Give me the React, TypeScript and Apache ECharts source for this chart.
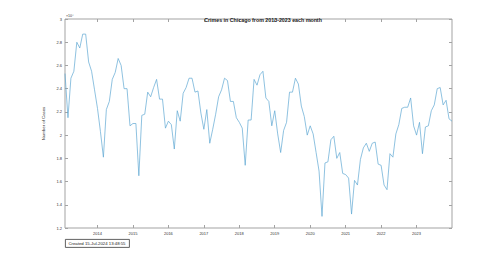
import React, { useEffect, useRef } from "react";
import * as echarts from "echarts";

const years = [2013, 2014, 2015, 2016, 2017, 2018, 2019, 2020, 2021, 2022, 2023];
const monthNames = ["01", "02", "03", "04", "05", "06", "07", "08", "09", "10", "11", "12"];

const cases2013 = [25300, 21500, 24900, 25500, 28000, 27500, 28700, 28700, 26300, 25500, 23900, 22300];
const cases2014 = [20300, 18100, 22200, 22900, 24800, 25400, 26600, 26000, 24000, 24000, 20800, 21000];
const cases2015 = [21000, 16500, 21700, 21800, 23700, 23300, 24100, 24800, 23100, 23100, 20600, 21200];
const cases2016 = [20900, 18800, 22100, 21200, 23600, 24100, 24900, 24900, 23700, 23800, 21900, 20500];
const cases2017 = [22200, 19300, 20500, 21800, 23300, 23900, 24900, 24700, 22900, 22900, 21500, 21100];
const cases2018 = [20600, 17400, 21300, 21300, 24800, 24300, 25200, 25500, 23200, 22900, 20800, 22100];
const cases2019 = [20100, 18500, 20400, 21100, 23700, 23700, 24900, 24400, 22500, 21600, 20000, 20800];
const cases2020 = [20100, 18500, 16900, 13000, 17600, 17700, 19600, 19900, 18000, 18500, 16700, 16600];
const cases2021 = [16300, 13200, 16100, 15700, 17900, 18900, 19300, 18600, 19300, 19400, 17500, 17400];
const cases2022 = [15700, 15300, 18400, 18100, 20100, 20900, 22300, 22400, 22400, 23200, 20800, 20000];
const cases2023 = [21100, 18400, 20700, 20800, 22100, 22600, 24000, 24100, 22600, 23000, 21400, 21200];

const yTicks = [12000, 14000, 16000, 18000, 20000, 22000, 24000, 26000, 28000, 30000];

const titleText = "Crimes in Chicago from 2013-2023 each month";
const yName = "Number of Cases";
const createdText = "Created 15-Jul-2024 13:48:55";

export default function App() {
  const ref = useRef<HTMLDivElement>(null);
  useEffect(() => {
    if (!ref.current) return;
    const chart = echarts.init(ref.current, null, { renderer: "svg" });
    const categories: string[] = [];
    years.forEach((y) => monthNames.forEach((m) => categories.push(`${y}-${m}`)));
    const values = [
      ...cases2013, ...cases2014, ...cases2015, ...cases2016, ...cases2017, ...cases2018,
      ...cases2019, ...cases2020, ...cases2021, ...cases2022, ...cases2023,
    ];
    const lastIdx = categories.length - 1;
    const isYearTick = (idx: number, val: string) => idx !== lastIdx && val.endsWith("-12");
    const font = "'Liberation Sans', Arial, sans-serif";
    const axisColor = "#a3a3a3";
    const textColor = "#333333";
    const yMin = yTicks[0];
    const yMax = yTicks[yTicks.length - 1];
    const yStep = yTicks[1] - yTicks[0];
    chart.setOption({
      animation: false,
      backgroundColor: "#ffffff",
      textStyle: { fontFamily: font },
      title: {
        text: titleText,
        left: 258,
        top: 12,
        textAlign: "center",
        textStyle: { fontSize: 5.3, fontWeight: "bold", color: "#1a1a1a", fontFamily: font },
      },
      grid: {
        left: 65,
        right: 48,
        top: 19,
        bottom: 29,
        show: true,
        borderColor: axisColor,
        borderWidth: 1,
        backgroundColor: "transparent",
        containLabel: false,
      },
      xAxis: [
        {
          type: "category",
          data: categories,
          boundaryGap: false,
          axisLine: { show: false },
          axisTick: { show: true, inside: true, length: 3, interval: isYearTick, lineStyle: { color: axisColor, width: 1 } },
          axisLabel: {
            show: true,
            interval: isYearTick,
            formatter: (v: string) => String(Number(v.slice(0, 4)) + 1),
            fontSize: 4,
            color: textColor,
            margin: 3,
            fontFamily: font,
          },
          splitLine: { show: false },
        },
        {
          type: "category",
          data: categories,
          position: "top",
          boundaryGap: false,
          axisLine: { show: false },
          axisTick: { show: true, inside: true, length: 3, interval: isYearTick, lineStyle: { color: axisColor, width: 1 } },
          axisLabel: { show: false },
          splitLine: { show: false },
        },
      ],
      yAxis: [
        {
          type: "value",
          min: yMin,
          max: yMax,
          interval: yStep,
          name: yName,
          nameLocation: "middle",
          nameGap: 9,
          nameTextStyle: { fontSize: 4.3, color: textColor, fontFamily: font },
          axisLine: { show: false },
          axisTick: { show: true, inside: true, length: 3, lineStyle: { color: axisColor, width: 1 } },
          axisLabel: {
            fontSize: 4,
            color: textColor,
            margin: 3,
            fontFamily: font,
            formatter: (v: number) => String(Math.round(v / 1000) / 10),
          },
          splitLine: { show: false },
        },
        {
          type: "value",
          min: yMin,
          max: yMax,
          interval: yStep,
          position: "right",
          axisLine: { show: false },
          axisTick: { show: true, inside: true, length: 3, lineStyle: { color: axisColor, width: 1 } },
          axisLabel: { show: false },
          splitLine: { show: false },
        },
      ],
      series: [
        {
          type: "line",
          data: values,
          xAxisIndex: 0,
          yAxisIndex: 0,
          showSymbol: false,
          symbol: "none",
          lineStyle: { color: "#5fa8d3", width: 0.7 },
        },
      ],
      graphic: [
        {
          type: "text",
          left: 66,
          top: 14,
          style: { text: "×10⁴", fontSize: 3.6, fill: textColor, fontFamily: font },
        },
        {
          type: "group",
          left: 65,
          top: 239,
          children: [
            { type: "rect", shape: { x: 0, y: 0, width: 64, height: 8 }, style: { fill: "#ffffff", stroke: "#3a3a3a", lineWidth: 0.8 } },
            { type: "text", x: 3, y: 4, style: { text: createdText, fontSize: 4.3, fill: "#1a1a1a", fontFamily: font, verticalAlign: "middle" } },
          ],
        },
      ],
    });
    return () => chart.dispose();
  }, []);
  return <div ref={ref} style={{ position: "absolute", left: 0, top: 0, width: 500, height: 257 }} />;
}
